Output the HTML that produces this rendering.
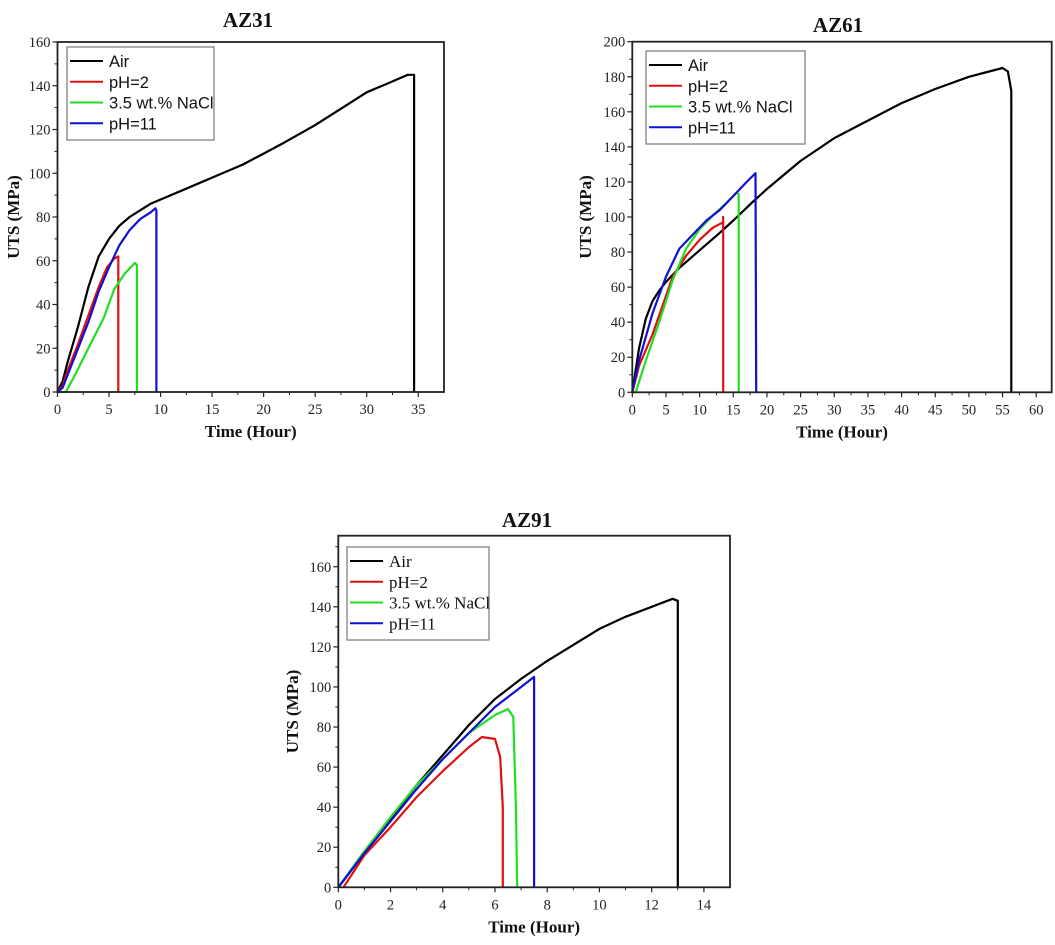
<!DOCTYPE html>
<html><head><meta charset="utf-8">
<style>
html,body{margin:0;padding:0;background:#fff;}
svg{display:block;}
.tk{font-family:"Liberation Serif",serif;font-size:14.5px;fill:#222;}
.ttl{font-family:"Liberation Serif",serif;font-weight:bold;font-size:21px;fill:#111;}
.al{font-family:"Liberation Serif",serif;font-weight:bold;font-size:17px;fill:#111;}
.lg{font-family:"Liberation Sans",sans-serif;font-size:16.5px;fill:#111;}
.lgs{font-family:"Liberation Serif",serif;font-size:17px;fill:#111;}
</style></head>
<body>
<svg id="root" width="1055" height="945" xmlns="http://www.w3.org/2000/svg"></svg>
<script>
// ---- data ----
const seriesNames = ["Air","pH=2","3.5 wt.% NaCl","pH=11"];
const seriesColors = ["#000000","#e01010","#22dd22","#1010d0"];
const az31Air = [[0,0],[0.5,5],[1,14],[2,30],[3,48],[4,62],[5,70],[6,76],[7,80],[8,83],[9,86],[10,88],[12,92],[15,98],[18,104],[20,109],[22,114],[25,122],[28,131],[30,137],[32,141],[34,145],[34.6,145],[34.6,0]];
const az31PH2 = [[0,0],[0.5,3],[1,10],[2,22],[3,35],[4,48],[4.8,57],[5.5,61],[5.9,62],[5.9,0]];
const az31NaCl = [[0,0],[0.8,0],[1.5,6],[3,20],[4.5,34],[5.5,47],[6.5,54],[7.5,59],[7.7,58],[7.7,0]];
const az31PH11 = [[0,0],[0.5,2],[1,8],[2,20],[3,32],[4,46],[5,57],[6,67],[7,74],[8,79],[9,82],[9.5,84],[9.6,83],[9.6,0]];
const az61Air = [[0,0],[1,25],[2,42],[3,52],[4,58],[5,63],[7,71],[10,81],[13,91],[15,98],[18,109],[20,116],[25,132],[30,145],[35,155],[40,165],[45,173],[50,180],[53,183],[55,185],[55.8,183],[56.3,172],[56.3,0]];
const az61PH2 = [[0,0],[1,15],[3,33],[5,55],[6,66],[8,78],[10,87],[12,94],[13.5,97],[13.5,100],[13.5,0]];
const az61NaCl = [[0,0],[0.5,0],[2,18],[4,40],[6,64],[8,82],[10,93],[12,101],[14,108],[15.5,114],[15.8,113],[15.8,0]];
const az61PH11 = [[0,0],[1,18],[3,45],[5,66],[7,82],[9,90],[11,98],[13,104],[15,112],[17,120],[18.3,125],[18.4,0]];
const az91Air = [[0,0],[1,17],[2,34],[3,51],[4,66],[5,81],[6,94],[7,104],[8,113],[9,121],[10,129],[11,135],[12,140],[12.8,144],[13,143],[13,0]];
const az91PH2 = [[0.2,0],[1,16],[2,30],[3,45],[4,58],[5,70],[5.5,75],[6,74],[6.2,65],[6.3,40],[6.3,0]];
const az91NaCl = [[0,0],[1,18],[2,35],[3,51],[4,64],[5,77],[6,86],[6.5,89],[6.7,85],[6.8,40],[6.85,0]];
const az91PH11 = [[0,0],[1,17],[2,33],[3,49],[4,64],[5,77],[6,90],[7,100],[7.5,105],[7.5,0]];
const az31XTicks = [0,5,10,15,20,25,30,35];
const az61XTicks = [0,5,10,15,20,25,30,35,40,45,50,55,60];
const az91XTicks = [0,2,4,6,8,10,12,14];
const az31YTicks = [0,20,40,60,80,100,120,140,160];
const az61YTicks = [0,20,40,60,80,100,120,140,160,180,200];
const az91YTicks = [0,20,40,60,80,100,120,140,160];

const NS="http://www.w3.org/2000/svg";
const root=document.getElementById('root');
function mk(tag,attrs,parent){const e=document.createElementNS(NS,tag);for(const k in attrs)e.setAttribute(k,attrs[k]);(parent||root).appendChild(e);return e;}

function chart(cfg){
  const g=mk('g',{});
  
  
  const X=v=>cfg.L+(v-0)*(cfg.R-cfg.L)/(cfg.xmax);
  const Y=v=>cfg.B-(v)*(cfg.B-cfg.T)/(cfg.ymax);
  cfg.series.forEach((s,i)=>{
    const p=mk('polyline',{points:s.map(d=>X(d[0]).toFixed(1)+','+Y(d[1]).toFixed(1)).join(' '),fill:'none',stroke:seriesColors[i],'stroke-width':2.2,'stroke-linejoin':'round'},g);
    
    
  });
  const fr=mk('rect',{x:cfg.L,y:cfg.T,width:cfg.R-cfg.L,height:cfg.B-cfg.T,fill:'none',stroke:'#222','stroke-width':1.8},g);
  
  
  const xt=mk('g',{},g);
  
  
  cfg.xt.forEach(v=>{
    mk('line',{x1:X(v),x2:X(v),y1:cfg.B,y2:cfg.B+5,stroke:'#222','stroke-width':1.2},xt);
    const m=v+cfg.xminor; if(m<cfg.xmax) mk('line',{x1:X(m),x2:X(m),y1:cfg.B,y2:cfg.B+3,stroke:'#222','stroke-width':1},xt);
    const t=mk('text',{x:X(v),y:cfg.B+22,'text-anchor':'middle',class:'tk'},xt);t.textContent=v;
  });
  const yt=mk('g',{},g);
  
  
  cfg.yt.forEach(v=>{
    mk('line',{x1:cfg.L,x2:cfg.L-5,y1:Y(v),y2:Y(v),stroke:'#222','stroke-width':1.2},yt);
    const m=v+10; if(m<cfg.ymax) mk('line',{x1:cfg.L,x2:cfg.L-3,y1:Y(m),y2:Y(m),stroke:'#222','stroke-width':1},yt);
    const t=mk('text',{x:cfg.L-7,y:Y(v)+5,'text-anchor':'end',class:'tk'},yt);t.textContent=v;
  });
  const ti=mk('text',{x:cfg.tx,y:cfg.ty,'text-anchor':'middle',class:'ttl'},g);ti.textContent=cfg.title;
  
  const xl=mk('text',{x:(cfg.L+cfg.R)/2,y:cfg.B+45,'text-anchor':'middle',class:'al'},g);xl.textContent='Time (Hour)';
  
  const yc=(cfg.T+cfg.B)/2;
  const yl=mk('text',{x:cfg.ylx,y:yc,'text-anchor':'middle',class:'al',transform:'rotate(-90 '+cfg.ylx+' '+yc+')'},g);yl.textContent='UTS (MPa)';
  
  const lg=mk('g',{},g);
  
  
  mk('rect',{x:cfg.lx,y:cfg.ly,width:cfg.lw,height:cfg.lh,fill:'#fff',stroke:'#777','stroke-width':1.2},lg);
  seriesNames.forEach((n,i)=>{
    const yy=cfg.ly+14+i*(cfg.lh-10)/4;
    const e=mk('g',{},lg);
    
    
    mk('line',{x1:cfg.lx+3,x2:cfg.lx+36,y1:yy,y2:yy,stroke:seriesColors[i],'stroke-width':2},e);
    const t=mk('text',{x:cfg.lx+42,y:yy+6,class:cfg.lgClass},e);t.textContent=n;
  });
}
chart({id:'az31',title:'AZ31',L:57.5,R:444,T:42,B:392,xmax:37.5,ymax:160,xminor:2.5,xt:az31XTicks,yt:az31YTicks,
 series:[az31Air,az31PH2,az31NaCl,az31PH11],tx:248,ty:27,ylx:19,lx:67,ly:47,lw:147,lh:93,lgClass:'lg'});
chart({id:'az61',title:'AZ61',L:632.3,R:1051.7,T:41.7,B:392.3,xmax:62.3,ymax:200,xminor:2.5,xt:az61XTicks,yt:az61YTicks,
 series:[az61Air,az61PH2,az61NaCl,az61PH11],tx:838,ty:32,ylx:591,lx:646,ly:51,lw:159,lh:93,lgClass:'lg'});
chart({id:'az91',title:'AZ91',L:338.3,R:730,T:535.7,B:887.3,xmax:15.0,ymax:175.5,xminor:1,xt:az91XTicks,yt:az91YTicks,
 series:[az91Air,az91PH2,az91NaCl,az91PH11],tx:527,ty:527,ylx:298,lx:347,ly:547,lw:142,lh:93,lgClass:'lgs'});
</script>
</body></html>
